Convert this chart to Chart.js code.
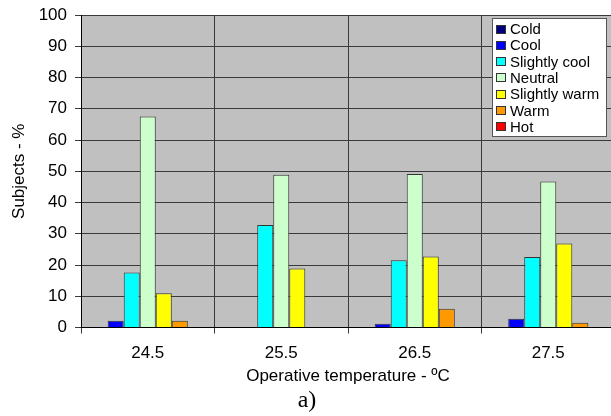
<!DOCTYPE html>
<html>
<head>
<meta charset="utf-8">
<script src="https://cdn.jsdelivr.net/npm/chart.js@4"></script>
<style>
    body { margin: 0; background: #fff; overflow: hidden; }
    #wrap { position: absolute; left: 0; top: 0; width: 618px; height: 416px; }
    #caption { position: absolute; left: 287px; top: 386px; width: 40px; text-align: center;
        font-family: "Liberation Serif", "Times New Roman", serif; font-size: 24px; color: #000; }
</style>
</head>
<body>
<div id="wrap"><canvas id="myChart" width="618" height="416"></canvas></div>
<div id="caption">a)</div>
<script>
// thermal sensation votes per operative temperature

const temperatures = ['24.5', '25.5', '26.5', '27.5']
const sensations = ['Cold', 'Cool', 'Slightly cool', 'Neutral', 'Slightly warm', 'Warm', 'Hot']
const sensationColors = ['#000080', '#0000ff', '#00ffff', '#ccffcc', '#ffff00', '#ff9900', '#ff0000']

const cold = [0, 0, 0, 0]
const cool = [2.2, 0, 1.2, 2.8]
const slightlyCool = [17.6, 32.8, 21.5, 22.6]
const neutral = [67.5, 48.9, 49.1, 46.7]
const slightlyWarm = [11.0, 18.9, 22.7, 26.9]
const warm = [2.2, 0, 6.0, 1.5]
const hot = [0, 0, 0, 0]

const yTicks = [0, 10, 20, 30, 40, 50, 60, 70, 80, 90, 100]

const seriesValues = [cold, cool, slightlyCool, neutral, slightlyWarm, warm, hot]

const plotBackground = {
    id: 'plotBackground',
    beforeDraw(chart) {
        const {ctx, chartArea} = chart
        ctx.save()
        ctx.fillStyle = '#c0c0c0'
        ctx.fillRect(chartArea.left, chartArea.top, chartArea.right - chartArea.left, chartArea.bottom - chartArea.top)
        ctx.restore()
    }
}

// Excel style legend box sitting on top of the plot
const boxLegend = {
    id: 'boxLegend',
    afterDraw(chart) {
        const ctx = chart.ctx
        const left = 492
        const top = 18
        const width = 115
        const height = 119
        ctx.save()
        ctx.fillStyle = '#fff'
        ctx.fillRect(left, top, width, height)
        ctx.strokeStyle = '#555'
        ctx.lineWidth = 1
        ctx.strokeRect(left + 0.5, top + 0.5, width - 1, height - 1)

        ctx.font = '15px "Liberation Sans", Arial, sans-serif'
        ctx.textBaseline = 'middle'
        chart.data.datasets.forEach((ds, i) => {
            const y = 29 + i * 16.3
            ctx.fillStyle = ds.backgroundColor
            ctx.fillRect(496, Math.round(y - 4.5), 10, 9)
            ctx.strokeStyle = '#333'
            ctx.strokeRect(496.5, Math.round(y - 4.5) + 0.5, 9, 8)
            ctx.fillStyle = '#000'
            ctx.fillText(ds.label, 510, y + 1)
        })
        ctx.restore()
    }
}

function buildChart() {
    const ctx = document.getElementById('myChart')

    const datasets = sensations.map((name, i) => ({
        label: name,
        data: seriesValues[i],
        backgroundColor: sensationColors[i],
        borderColor: '#333',
        borderWidth: 1,
        barPercentage: 1.0,
        categoryPercentage: 0.84
    }))

    new Chart(ctx, {
        type: 'bar',
        data: {
            labels: temperatures,
            datasets: datasets
        },
        options: {
            responsive: false,
            animation: false,
            layout: {
                padding: { top: 15, left: 0, right: 3, bottom: 0 }
            },
            plugins: {
                legend: { display: false },
                tooltip: { enabled: false }
            },
            scales: {
                x: {
                    offset: true,
                    grid: {
                        offset: true,
                        color: '#3a3a3a',
                        tickLength: 6
                    },
                    border: { color: '#000' },
                    ticks: {
                        color: '#000',
                        padding: 10,
                        font: { size: 17 }
                    },
                    title: {
                        display: true,
                        text: 'Operative temperature - ºC',
                        color: '#000',
                        font: { size: 17 },
                        padding: { top: 0, bottom: 29 }
                    },
                    afterFit: function(scale) {
                        scale.height = 416 - 327.5
                    }
                },
                y: {
                    min: 0,
                    max: 100,
                    afterBuildTicks: function(scale) {
                        scale.ticks = yTicks.map(v => ({ value: v }))
                    },
                    grid: {
                        color: '#3a3a3a',
                        tickLength: 6
                    },
                    border: { color: '#000' },
                    ticks: {
                        color: '#000',
                        padding: 8,
                        font: { size: 17 }
                    },
                    title: {
                        display: true,
                        text: 'Subjects - %',
                        color: '#000',
                        font: { size: 17 },
                        padding: { top: 9, bottom: 0 }
                    },
                    afterFit: function(scale) {
                        scale.width = 81
                        scale.paddingTop = 0
                        scale.paddingBottom = 0
                    }
                }
            }
        },
        plugins: [plotBackground, boxLegend]
    })
}

Chart.defaults.font.family = '"Liberation Sans", Arial, sans-serif'
buildChart()
</script>
</body>
</html>
